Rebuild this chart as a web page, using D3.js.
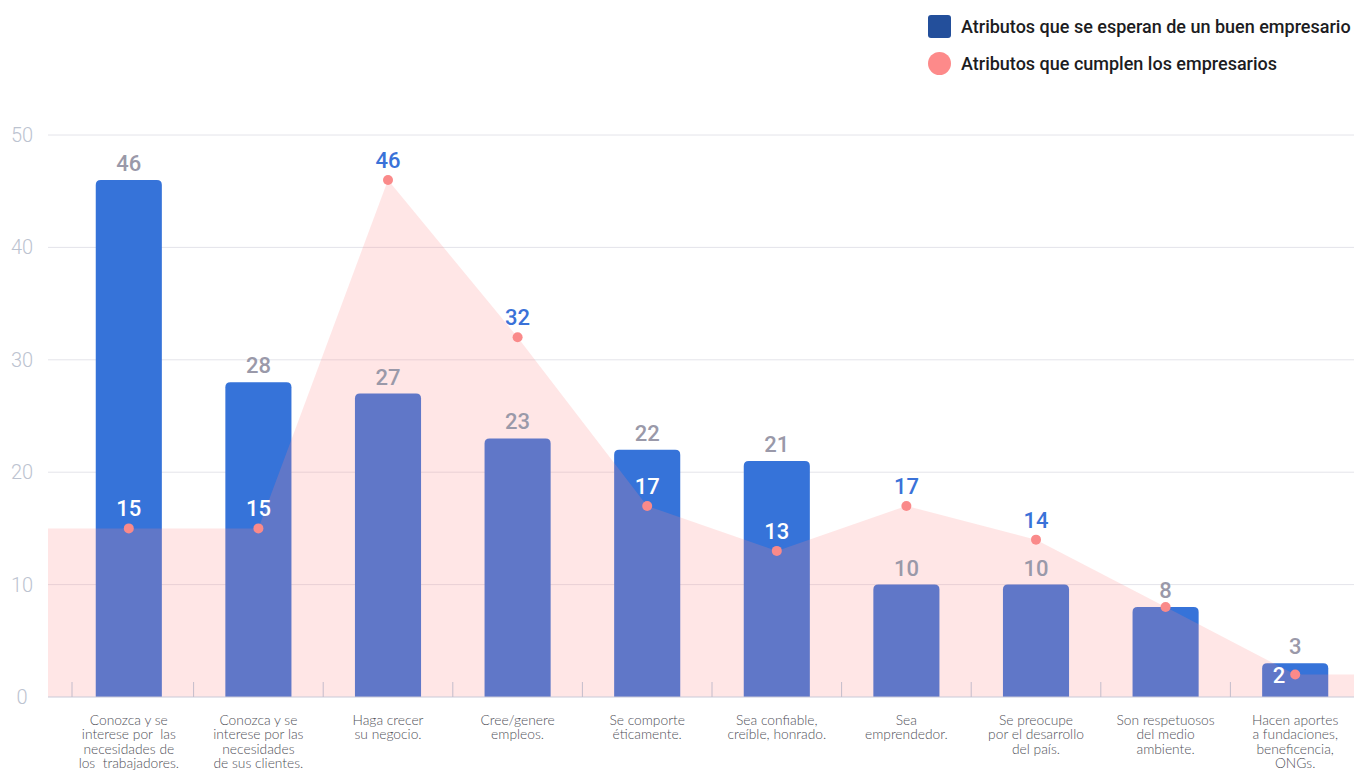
<!DOCTYPE html>
<html>
<head>
<meta charset="utf-8">
<script src="https://cdn.jsdelivr.net/npm/d3@7"></script>
<style>
  html, body { margin: 0; padding: 0; background: #fff; }
  svg { display: block; }
</style>
</head>
<body>
<svg id="chart" width="1354" height="770"></svg>
<script>
// Categories (each label split into its display lines)
const categories = [
  ["Conozca y se", "interese por  las", "necesidades de", "los  trabajadores."],
  ["Conozca y se", "interese por las", "necesidades", "de sus clientes."],
  ["Haga crecer", "su negocio."],
  ["Cree/genere", "empleos."],
  ["Se comporte", "éticamente."],
  ["Sea confiable,", "creíble, honrado."],
  ["Sea", "emprendedor."],
  ["Se preocupe", "por el desarrollo", "del país."],
  ["Son respetuosos", "del medio", "ambiente."],
  ["Hacen aportes", "a fundaciones,", "beneficencia,", "ONGs."]
];
// Expected attributes of a good entrepreneur (bars)
const expected = [46, 28, 27, 23, 22, 21, 10, 10, 8, 3];
// Attributes entrepreneurs actually fulfil (area + points)
const fulfilled = [15, 15, 46, 32, 17, 13, 17, 14, 8, 2];
const yTicks = [0, 10, 20, 30, 40, 50];
const seriesNames = ["Atributos que se esperan de un buen empresario", "Atributos que cumplen los empresarios"];

const svg = d3.select("#chart");
const plotLeft = 48, plotRight = 1354;
const ids = categories.map((c, i) => i);

const x = d3.scaleBand().domain(ids).range([64, 1360]).padding(0);
const cx = i => x(i) + x.bandwidth() / 2;
const y = d3.scaleLinear().domain([0, 50]).range([697, 135]);
const barW = x.bandwidth() * 0.51;

// gridlines
svg.append("g").selectAll("line").data(yTicks.filter(t => t > 0)).join("line")
  .attr("x1", plotLeft).attr("x2", plotRight)
  .attr("y1", d => y(d)).attr("y2", d => y(d))
  .attr("stroke", "#e4e4ea").attr("stroke-width", 1);

// y axis labels
svg.append("g").selectAll("text").data(yTicks).join("text")
  .attr("x", 22).attr("y", d => y(d)).attr("dy", "0.35em")
  .attr("text-anchor", "middle")
  .attr("font-family", "Roboto, sans-serif").attr("font-size", 20).attr("font-weight", 300)
  .attr("fill", "#bcc3d0")
  .text(d => d);

// bars with rounded top corners
const r = 5;
function barPath(i, v) {
  const x0 = cx(i) - barW / 2, x1 = cx(i) + barW / 2;
  const yt = y(v), yb = y(0);
  return `M${x0},${yb}V${yt + r}Q${x0},${yt} ${x0 + r},${yt}H${x1 - r}Q${x1},${yt} ${x1},${yt + r}V${yb}Z`;
}
svg.append("g").selectAll("path").data(expected).join("path")
  .attr("d", (v, i) => barPath(i, v))
  .attr("fill", "#3673d9");

// fulfilled area, extended flat to both plot edges
const areaData = [{ px: plotLeft, v: fulfilled[0] }]
  .concat(fulfilled.map((v, i) => ({ px: cx(i), v })))
  .concat([{ px: plotRight, v: fulfilled[fulfilled.length - 1] }]);
const area = d3.area().x(d => d.px).y0(y(0)).y1(d => y(d.v));
svg.append("path").datum(areaData)
  .attr("d", area)
  .attr("fill", "#ff8888").attr("fill-opacity", 0.21);

// x axis baseline and ticks
svg.append("line")
  .attr("x1", plotLeft).attr("x2", plotRight)
  .attr("y1", y(0)).attr("y2", y(0))
  .attr("stroke", "#c9c9d8").attr("stroke-width", 1.2);
const tickXs = ids.map(i => i === 0 ? x(i) + 8 : x(i));
svg.append("g").selectAll("line").data(tickXs).join("line")
  .attr("x1", d => d).attr("x2", d => d)
  .attr("y1", y(0) - 15).attr("y2", y(0))
  .attr("stroke", "#c4bccb").attr("stroke-width", 1);

// bar value labels
svg.append("g").selectAll("text").data(expected).join("text")
  .attr("x", (v, i) => cx(i)).attr("y", v => y(v) - 9)
  .attr("text-anchor", "middle")
  .attr("font-family", "Roboto, sans-serif").attr("font-size", 22).attr("font-weight", 500)
  .attr("fill", "#9a99a9")
  .text(v => v);

// fulfilled points
svg.append("g").selectAll("circle").data(fulfilled).join("circle")
  .attr("cx", (v, i) => cx(i)).attr("cy", v => y(v))
  .attr("r", 5).attr("fill", "#fa8a8a");

// fulfilled labels: white inside a bar, blue outside; when the point is
// too close to its bar's top, the label moves to the left of the point
const crowded = (v, i) => v < expected[i] && expected[i] - v < 3;
svg.append("g").selectAll("text").data(fulfilled).join("text")
  .attr("x", (v, i) => crowded(v, i) ? cx(i) - 10 : cx(i))
  .attr("y", (v, i) => crowded(v, i) ? y(v) + 8 : y(v) - 12)
  .attr("text-anchor", (v, i) => crowded(v, i) ? "end" : "middle")
  .attr("font-family", "Roboto, sans-serif").attr("font-size", 22).attr("font-weight", 500)
  .attr("fill", (v, i) => (v < expected[i]) ? "#ffffff" : "#3a72d8")
  .text((v, i) => (v === expected[i]) ? "" : v);

// category labels
const catG = svg.append("g");
categories.forEach((lines, i) => {
  const t = catG.append("text")
    .attr("x", cx(i)).attr("y", 725)
    .attr("text-anchor", "middle")
    .attr("font-family", "Lato, sans-serif").attr("font-size", 13.8).attr("font-weight", 300)
    .attr("fill", "#505058");
  lines.forEach((ln, k) => {
    t.append("tspan").attr("x", cx(i)).attr("y", 725 + k * 14.4)
      .attr("xml:space", "preserve").text(ln);
  });
});

// legend
const lg = svg.append("g");
lg.append("rect").attr("x", 928).attr("y", 15).attr("width", 23).attr("height", 23)
  .attr("rx", 3).attr("fill", "#234f9b");
lg.append("circle").attr("cx", 939.5).attr("cy", 63.5).attr("r", 11.5).attr("fill", "#fd8a8a");
lg.selectAll("text").data(seriesNames).join("text")
  .attr("x", 961).attr("y", (d, i) => 33 + i * 37)
  .attr("font-family", "Roboto, sans-serif").attr("font-size", 18).attr("font-weight", 500)
  .attr("fill", "#1c1c22")
  .text(d => d);
</script>
</body>
</html>
